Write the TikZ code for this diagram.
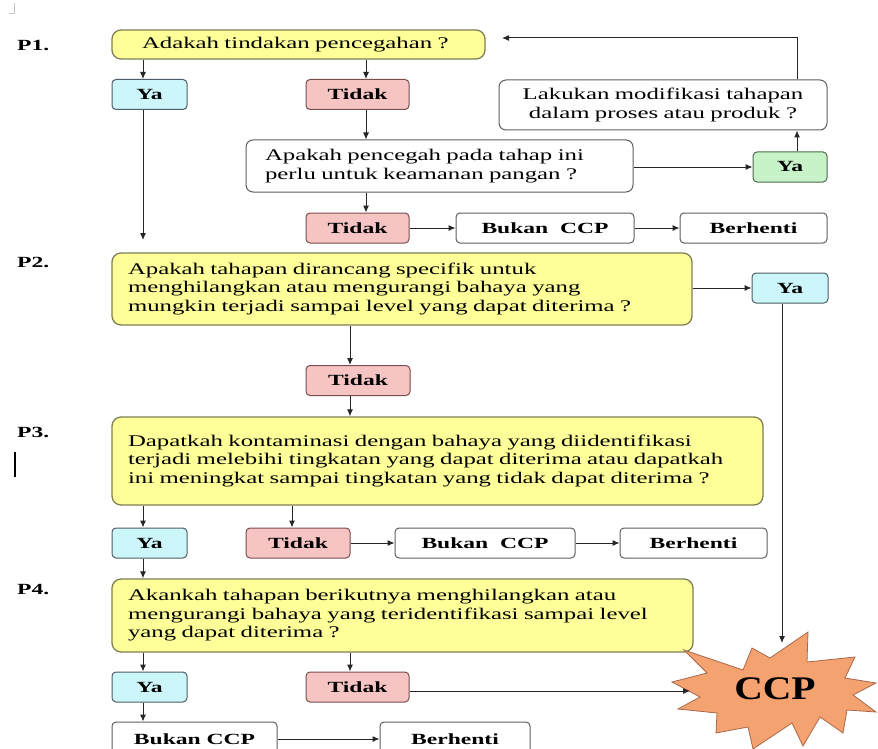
\documentclass[tikz,border=0pt]{standalone}
\usepackage{fontspec}
\setmainfont[FakeStretch=1.52]{Liberation Serif}
\newfontfamily\ccpfont[FakeStretch=1.2]{Liberation Serif}
\usetikzlibrary{arrows.meta,calc}
\definecolor{qyellow}{HTML}{FFFF99}
\definecolor{qyborder}{HTML}{7E7E52}
\definecolor{cyanfill}{HTML}{CCF6FA}
\definecolor{cyanborder}{HTML}{4E5E64}
\definecolor{pinkfill}{HTML}{F7C4C4}
\definecolor{pinkborder}{HTML}{7A4E4E}
\definecolor{greenfill}{HTML}{C8F2C8}
\definecolor{greenborder}{HTML}{4E6A4E}
\definecolor{wborder}{HTML}{5E5E5E}
\definecolor{ccporange}{HTML}{F5A271}
\definecolor{ccpborder}{HTML}{A8684A}
\begin{document}
\begin{tikzpicture}[x=1pt,y=-1pt,
  txt/.style={font=\fontsize{16.3}{18.5}\selectfont},
  boldtxt/.style={font=\fontsize{15.5}{18}\selectfont\bfseries},
  qbox/.style={draw=qyborder, fill=qyellow, line width=1.3pt, rounded corners=9pt, inner ysep=0pt, inner xsep=16pt, align=left, txt},
  wqbox/.style={draw=wborder, fill=white, line width=1pt, rounded corners=7pt, inner ysep=0pt, inner xsep=19pt, align=left, txt},
  yabox/.style={draw=cyanborder, fill=cyanfill, line width=1pt, rounded corners=4pt, inner sep=0pt, boldtxt, minimum width=75pt, minimum height=30pt},
  tdbox/.style={draw=pinkborder, fill=pinkfill, line width=1pt, rounded corners=4pt, inner sep=0pt, boldtxt, minimum width=104pt, minimum height=30pt},
  gbox/.style={draw=greenborder, fill=greenfill, line width=1pt, rounded corners=4pt, inner sep=0pt, boldtxt, minimum width=74pt, minimum height=30pt},
  wbox/.style={draw=wborder, fill=white, line width=1pt, rounded corners=4pt, inner sep=0pt, boldtxt, minimum height=30pt},
  plabel/.style={anchor=west, inner sep=0pt, boldtxt},
  conn/.style={-{Latex[length=7pt,width=6pt]}, line width=1pt, draw=black!85}
]
\fill[white] (0,0) rectangle (878,749);
\useasboundingbox (0,0) rectangle (878,749);

% small artifacts
\draw[gray!45, line width=0.8pt] (9,13) -- (14,13) -- (14,3);
\draw[black, line width=2.2pt] (15,452) -- (15,477);

% labels
\node[plabel] (p1) at (17,45) {P1.};
\node[plabel] (p2) at (17,262) {P2.};
\node[plabel] (p3) at (17,432) {P3.};
\node[plabel] (p4) at (17,590) {P4.};

% P1
\node[qbox, text width=341pt, minimum height=29pt] (q1) at (298.5,44.5) {\hspace*{14pt}Adakah tindakan pencegahan ?};
\node[yabox] (ya1) at (149.5,94.5) {Ya};
\node[tdbox, minimum width=103pt] (td1) at (357.5,94.5) {Tidak};
\node[wqbox, text width=349pt, minimum height=52pt] (q1b) at (439.5,166) {Apakah pencegah pada tahap ini\\perlu untuk keamanan pangan ?};
\node[tdbox, minimum width=103pt] (td1b) at (357.5,228) {Tidak};
\node[wbox, minimum width=178pt] (bk1) at (545,228) {Bukan~~CCP};
\node[wbox, minimum width=147pt] (bh1) at (753.5,228) {Berhenti};
\node[gbox] (yag) at (790,167) {Ya};
\node[wqbox, inner xsep=4pt, text width=320pt, minimum height=50pt, align=center] (mod) at (663,105) {Lakukan modifikasi tahapan\\dalam proses atau produk ?};

% P2
\node[qbox, text width=548pt, minimum height=72pt] (q2) at (402,289) {Apakah tahapan dirancang specifik untuk\\menghilangkan atau mengurangi bahaya yang\\mungkin terjadi sampai level yang dapat diterima ?};
\node[yabox, minimum width=76pt] (ya2) at (790,288) {Ya};
\node[tdbox] (td2) at (358,380.5) {Tidak};

% P3
\node[qbox, text width=619pt, minimum height=88pt] (q3) at (437.5,461) {Dapatkah kontaminasi dengan bahaya yang diidentifikasi\\terjadi melebihi tingkatan yang dapat diterima atau dapatkah\\ini meningkat sampai tingkatan yang tidak dapat diterima ?};
\node[yabox] (ya3) at (149.5,543) {Ya};
\node[tdbox] (td3) at (298,543) {Tidak};
\node[wbox, minimum width=180pt] (bk3) at (485,543) {Bukan~~CCP};
\node[wbox, minimum width=147pt] (bh3) at (693.5,543) {Berhenti};

% P4
\node[qbox, text width=549pt, minimum height=73pt] (q4) at (402.5,615.5) {Akankah tahapan berikutnya menghilangkan atau\\mengurangi bahaya yang teridentifikasi sampai level\\yang dapat diterima ?};
\node[yabox] (ya4) at (149.5,687) {Ya};
\node[tdbox, minimum width=103pt] (td4) at (357.5,687) {Tidak};
\node[wbox, minimum width=165pt, minimum height=34pt] (bk4) at (194.5,739) {Bukan CCP};
\node[wbox, minimum width=150pt, minimum height=34pt] (bh4) at (455,739) {Berhenti};

% CCP starburst
\filldraw[fill=ccporange, draw=ccpborder, line width=0.8pt]
  (684,650) -- (743,670) -- (752,648) -- (770,658) -- (808,632) -- (807,662)
  -- (855,657) -- (845,678) -- (876,683) -- (853,695) -- (876,712) -- (847,710)
  -- (843,733) -- (820,717) -- (803,746) -- (792,723) -- (753,749) -- (748,727)
  -- (716,733) -- (717,713) -- (678,709) -- (700,697) -- (672,682) -- (707,673) -- cycle;
\node[inner sep=0pt, font=\ccpfont\fontsize{33}{33}\selectfont\bfseries] (ccp) at (775,689) {CCP};

% helper coordinates
\coordinate (cL) at (143,0);
\coordinate (cT1) at (366,0);
\coordinate (cT2) at (350,0);
\coordinate (cT3) at (292,0);
\coordinate (cR) at (797,0);
\coordinate (cY2) at (782,0);
\coordinate (loopA) at (797,38);
\coordinate (loopB) at (502,38);
\coordinate (ya1end) at (143,240);
\coordinate (ccpTop) at (782,643);
\coordinate (ccpLeft) at (690,691);

% connectors
\draw[conn] (q1.south -| cL) -- (ya1.north -| cL);
\draw[conn] (q1.south -| cT1) -- (td1.north -| cT1);
\draw[conn] (td1.south -| cT1) -- (q1b.north -| cT1);
\draw[conn] (q1b.south -| cT1) -- (td1b.north -| cT1);
\draw[conn] (td1b) -- (bk1);
\draw[conn] (bk1) -- (bh1);
\draw[conn] (q1b.east |- yag) -- (yag.west);
\draw[conn] (yag.north -| cR) -- (mod.south -| cR);
\draw[conn] (mod.north -| cR) -- (loopA) -- (loopB);
\draw[conn] (ya1.south -| cL) -- (ya1end);

\draw[conn] (q2.east |- ya2) -- (ya2.west);
\draw[conn] (q2.south -| cT2) -- (td2.north -| cT2);
\draw[conn] (td2.south -| cT2) -- (q3.north -| cT2);
\draw[conn] (ya2.south -| cY2) -- (ccpTop);

\draw[conn] (q3.south -| cL) -- (ya3.north -| cL);
\draw[conn] (q3.south -| cT3) -- (td3.north -| cT3);
\draw[conn] (td3) -- (bk3);
\draw[conn] (bk3) -- (bh3);
\draw[conn] (ya3.south -| cL) -- (q4.north -| cL);

\draw[conn] (q4.south -| cL) -- (ya4.north -| cL);
\draw[conn] (q4.south -| cT2) -- (td4.north -| cT2);
\draw[conn] (td4.east |- ccpLeft) -- (ccpLeft);
\draw[conn] (ya4.south -| cL) -- (bk4.north -| cL);
\draw[conn] (bk4) -- (bh4);
\end{tikzpicture}
\end{document}
